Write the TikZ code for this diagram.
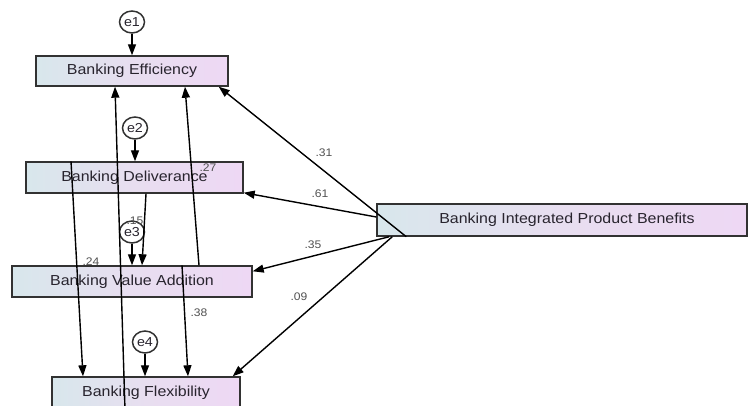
\documentclass[tikz,border=0pt]{standalone}
\usepackage{fontspec}
\setmainfont{Liberation Sans}[FakeStretch=1.1]
\usetikzlibrary{arrows.meta,shapes.geometric}
\definecolor{boxL}{RGB}{216,231,236}
\definecolor{boxM}{RGB}{232,222,240}
\definecolor{boxR}{RGB}{238,216,244}
\definecolor{edge}{RGB}{50,50,50}
\definecolor{lbl}{RGB}{80,80,80}
\definecolor{txt}{RGB}{40,36,46}
\begin{document}
\begin{tikzpicture}[x=1pt,y=-1pt,
  var/.style={draw=edge, line width=1.4pt, left color=boxL, right color=boxR, middle color=boxM,
    inner sep=0pt, font=\fontsize{14.5}{16}\selectfont, text=txt},
  err/.style={draw=edge, line width=1.5pt, fill=white, ellipse, minimum width=25pt, minimum height=22pt,
    inner sep=0pt, font=\fontsize{13}{14}\selectfont, text=txt},
  arr/.style={draw=black, line width=1.4pt, -{Triangle[length=11pt,width=8pt]}},
  coef/.style={font=\fontsize{11}{12}\selectfont, text=lbl, inner sep=0pt}]
\useasboundingbox (0,0) rectangle (748,406);
\clip (0,0) rectangle (748,406);

% observed variables
\node[var, minimum width=192pt, minimum height=30pt] (eff)  at (132,71)    {Banking Efficiency};
\node[var, minimum width=217pt, minimum height=31pt] (del)  at (134.5,177.5) {Banking Deliverance};
\node[var, minimum width=240pt, minimum height=31pt] (va)   at (132,281.5) {Banking Value Addition};
\node[var, minimum width=188pt, minimum height=32pt] (flex) at (146,393)   {Banking Flexibility};
\node[var, minimum width=370pt, minimum height=32pt] (bipb) at (562,220)   {\hspace{10pt}Banking Integrated Product Benefits};

% error terms
\node[err] (e1) at (132,22)  {e1};
\node[err] (e2) at (135,128) {e2};
\node[err] (e3) at (132,232) {e3};
\node[err] (e4) at (145,342) {e4};

% error arrows
\draw[arr] (e1.south) -- (e1.south |- eff.north);
\draw[arr] (e2.south) -- (e2.south |- del.north);
\draw[arr] (e3.south) -- (e3.south |- va.north);
\draw[arr] (e4.south) -- (e4.south |- flex.north);

% paths among outcomes
\draw[arr] ([xshift=-21pt]flex.south) -- ([xshift=-17pt]eff.south);
\draw[arr] ([xshift=67pt]va.north) -- ([xshift=53pt]eff.south);
\draw[arr] ([xshift=11.5pt]del.south) -- ([xshift=10pt]va.north);
\draw[arr] ([xshift=-63.5pt]del.north) -- ([xshift=-63pt]flex.north);
\draw[arr] ([xshift=50pt]va.north) -- ([xshift=42pt]flex.north);

% paths from Banking Integrated Product Benefits
\draw[arr] ([xshift=30pt]bipb.south west) -- ([xshift=-10pt]eff.south east);
\draw[arr] ([yshift=3pt]bipb.west) -- ([yshift=1pt]del.south east);
\draw[arr] ([xshift=13pt]bipb.south west) -- ([yshift=-6pt]va.north east);
\draw[arr] ([xshift=16pt]bipb.south west) -- ([xshift=-8pt]flex.north east);

% coefficients
\node[coef] (c31) at (324,153) {.31};
\node[coef] (c61) at (320,194) {.61};
\node[coef] (c35) at (313,245) {.35};
\node[coef] (c09) at (299,297) {.09};
\node[coef] (c27) at (208,168) {.27};
\node[coef] (c15) at (135,221) {.15};
\node[coef] (c24) at (91,262)  {.24};
\node[coef] (c38) at (199,313) {.38};
\end{tikzpicture}
\end{document}
